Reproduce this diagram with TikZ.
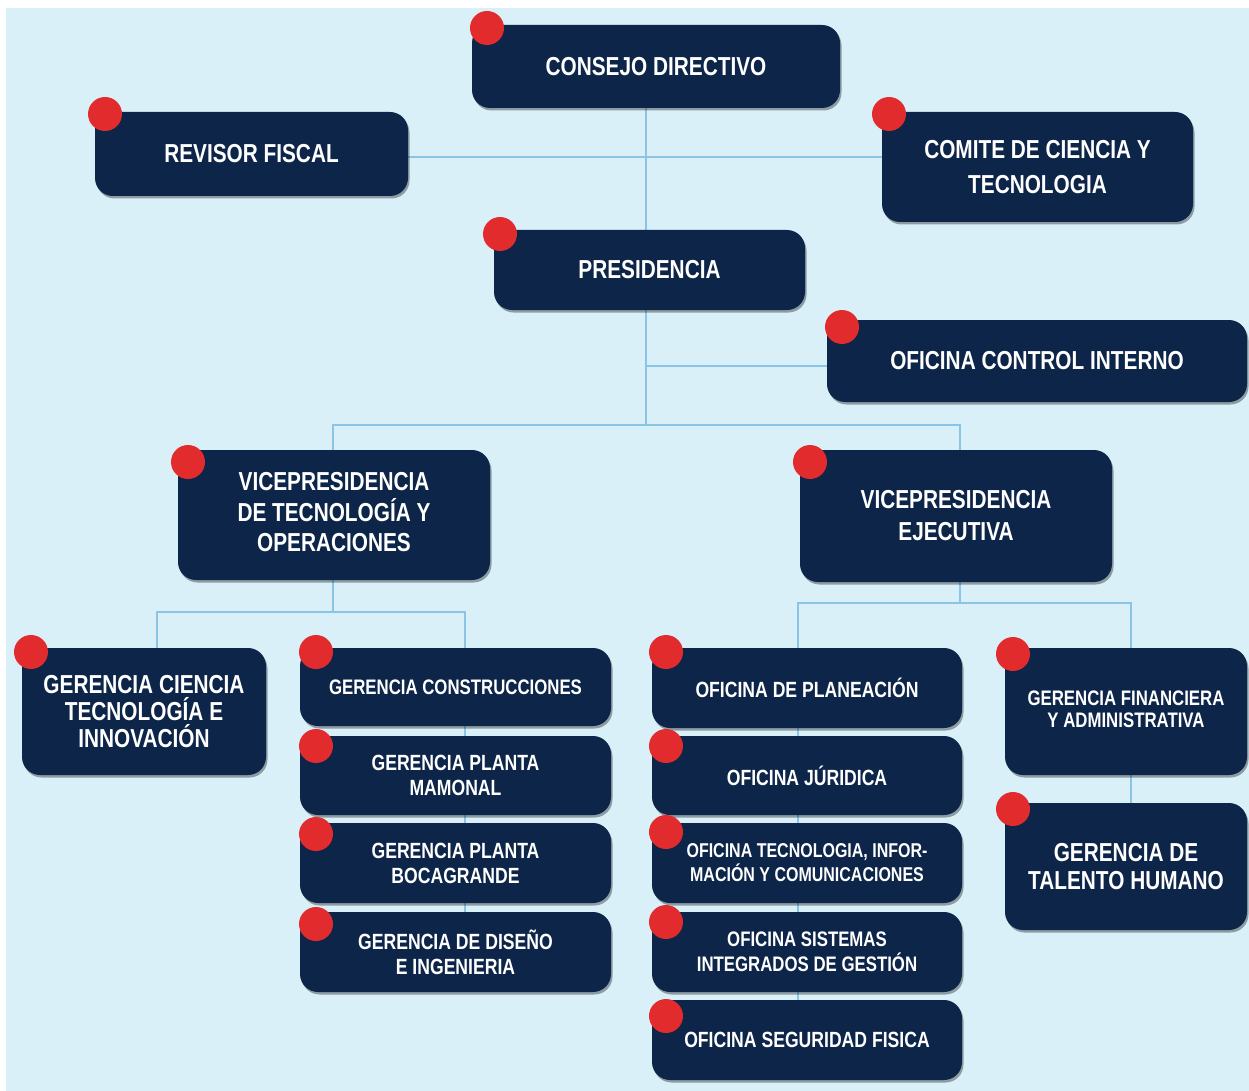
\documentclass[tikz,border=0pt]{standalone}
\usepackage{fontspec}
\newfontfamily\cond{Liberation Sans}[FakeStretch=0.80]
\usetikzlibrary{backgrounds,shadows}
\pgfdeclarelayer{canvas}
\pgfsetlayers{canvas,background,main}
\definecolor{bgblue}{HTML}{D9F0F9}
\definecolor{navy}{HTML}{0C2549}
\definecolor{linkblue}{HTML}{8CC4E6}
\definecolor{dotred}{HTML}{E12B2C}
\def\fA{\fontsize{26}{32}\selectfont}
\def\fB{\fontsize{26}{27}\selectfont}
\def\fC{\fontsize{22}{25}\selectfont}
\def\fD{\fontsize{21}{25}\selectfont}
\tikzset{
  box/.style={fill=navy, rounded corners=18pt, text=white, align=center,
    font=\cond\bfseries\fA, inner sep=0pt,
    drop shadow={shadow xshift=1.5pt, shadow yshift=-2.5pt, fill=black, opacity=0.35}},
  reddot/.style={circle, fill=dotred, minimum size=34pt, inner sep=0pt},
  conn/.style={draw=linkblue, line width=2pt}
}
\begin{document}
\begin{tikzpicture}[x=1pt,y=-1pt]
\useasboundingbox (0,0) rectangle (1249,1091);
\begin{pgfonlayer}{canvas}
\fill[white] (0,0) rectangle (1249,1091);
\fill[bgblue] (6,8) rectangle (1249,1091);
\end{pgfonlayer}

% top level
\node[box, minimum width=368pt, minimum height=83pt] (cd) at (656,66.5) {CONSEJO DIRECTIVO};
\node[reddot] (cdd) at (487,28) {};
\node[box, minimum width=313pt, minimum height=84pt] (rf) at (251.5,154) {REVISOR FISCAL};
\node[reddot] (rfd) at (105,114) {};
\node[box, minimum width=311pt, minimum height=110pt, font=\cond\bfseries\fontsize{26}{35}\selectfont] (cc) at (1037.5,167) {COMITE DE CIENCIA Y\\TECNOLOGIA};
\node[reddot] (ccd) at (889,114) {};
\node[box, minimum width=311pt, minimum height=80pt] (pres) at (649.5,270) {PRESIDENCIA};
\node[reddot] (presd) at (500,234) {};
\node[box, minimum width=420pt, minimum height=82pt] (oci) at (1037,361) {OFICINA CONTROL INTERNO};
\node[reddot] (ocid) at (842,327) {};

% vice presidencies
\node[box, minimum width=312pt, minimum height=130pt, font=\cond\bfseries\fontsize{26}{31}\selectfont] (vpt) at (334,515) {\raisebox{-6pt}{\begin{tabular}{@{}c@{}}VICEPRESIDENCIA\\[-1pt]DE TECNOLOGÍA Y\\[-1pt]OPERACIONES\end{tabular}}};
\node[reddot] (vptd) at (188,462) {};
\node[box, minimum width=312pt, minimum height=132pt] (vpe) at (956,516) {VICEPRESIDENCIA\\EJECUTIVA};
\node[reddot] (vped) at (810,462) {};

% left branch
\node[box, minimum width=244pt, minimum height=127pt, font=\cond\bfseries\fB] (gcti) at (144,711.5) {GERENCIA CIENCIA\\TECNOLOGÍA E\\INNOVACIÓN};
\node[reddot] (gctid) at (31,652) {};
\node[box, minimum width=311pt, minimum height=78pt, font=\cond\bfseries\fD] (gcon) at (455.5,687) {GERENCIA CONSTRUCCIONES};
\node[reddot] (gcond) at (316,652) {};
\node[box, minimum width=311pt, minimum height=79pt, font=\cond\bfseries\fC] (gpm) at (455.5,775.5) {GERENCIA PLANTA\\MAMONAL};
\node[reddot] (gpmd) at (316,746) {};
\node[box, minimum width=311pt, minimum height=80pt, font=\cond\bfseries\fC] (gpb) at (455.5,863) {GERENCIA PLANTA\\BOCAGRANDE};
\node[reddot] (gpbd) at (316,834) {};
\node[box, minimum width=311pt, minimum height=80pt, font=\cond\bfseries\fC] (gdi) at (455.5,952) {GERENCIA DE DISEÑO\\E INGENIERIA};
\node[reddot] (gdid) at (316,924) {};

% right branch: offices
\node[box, minimum width=310pt, minimum height=80pt, font=\cond\bfseries\fC] (opl) at (807,688) {OFICINA DE PLANEACIÓN};
\node[reddot] (opld) at (666,652) {};
\node[box, minimum width=310pt, minimum height=79pt, font=\cond\bfseries\fC] (oju) at (807,775.5) {OFICINA JÚRIDICA};
\node[reddot] (ojud) at (666,746) {};
\node[box, minimum width=310pt, minimum height=80pt, font=\cond\bfseries\fontsize{20}{24}\selectfont] (oti) at (807,863) {OFICINA TECNOLOGIA, INFOR-\\MACIÓN Y COMUNICACIONES};
\node[reddot] (otid) at (666,832) {};
\node[box, minimum width=310pt, minimum height=80pt, font=\cond\bfseries\fontsize{21}{25}\selectfont] (osi) at (807,952) {OFICINA SISTEMAS\\INTEGRADOS DE GESTIÓN};
\node[reddot] (osid) at (666,922) {};
\node[box, minimum width=310pt, minimum height=80pt, font=\cond\bfseries\fC] (osf) at (807,1040) {OFICINA SEGURIDAD FISICA};
\node[reddot] (osfd) at (666,1016) {};

% right branch: gerencias
\node[box, minimum width=242pt, minimum height=127pt, font=\cond\bfseries\fontsize{21}{27}\selectfont] (gfa) at (1126,711.5) {\raisebox{3pt}{\begin{tabular}{@{}c@{}}GERENCIA FINANCIERA\\[-5pt]Y ADMINISTRATIVA\end{tabular}}};
\node[reddot] (gfad) at (1013,654) {};
\node[box, minimum width=242pt, minimum height=127pt, font=\cond\bfseries\fontsize{26}{28}\selectfont] (gth) at (1126,866.5) {GERENCIA DE\\TALENTO HUMANO};
\node[reddot] (gthd) at (1013,809) {};

% connectors
\coordinate (t1) at (646,157);
\coordinate (j2) at (646,366);
\coordinate (j1) at (646,425);
\coordinate (j1r) at (960,425);
\coordinate (j3) at (333,612);
\coordinate (jl) at (157,612);
\coordinate (jr) at (465,612);
\coordinate (j4) at (960,603);
\coordinate (kl) at (798,603);
\coordinate (kr) at (1131,603);
\begin{scope}[on background layer]
\draw[conn] (cd.south -| t1) -- (pres.north -| t1);
\draw[conn] (rf.east |- t1) -- (cc.west |- t1);
\draw[conn] (pres.south -| j1) -- (j1);
\draw[conn] (j2) -- (oci.west |- j2);
\draw[conn] (vpt.north -| j3) -- (j3 |- j1) -- (j1r) -- (j1r |- vpe.north);
\draw[conn] (vpt.south -| j3) -- (j3);
\draw[conn] (jl |- gcti.north) -- (jl) -- (jr) -- (jr |- gdi.north);
\draw[conn] (vpe.south -| j4) -- (j4);
\draw[conn] (kl |- osf.north) -- (kl) -- (kr) -- (kr |- gth.north);
\end{scope}
\end{tikzpicture}
\end{document}
